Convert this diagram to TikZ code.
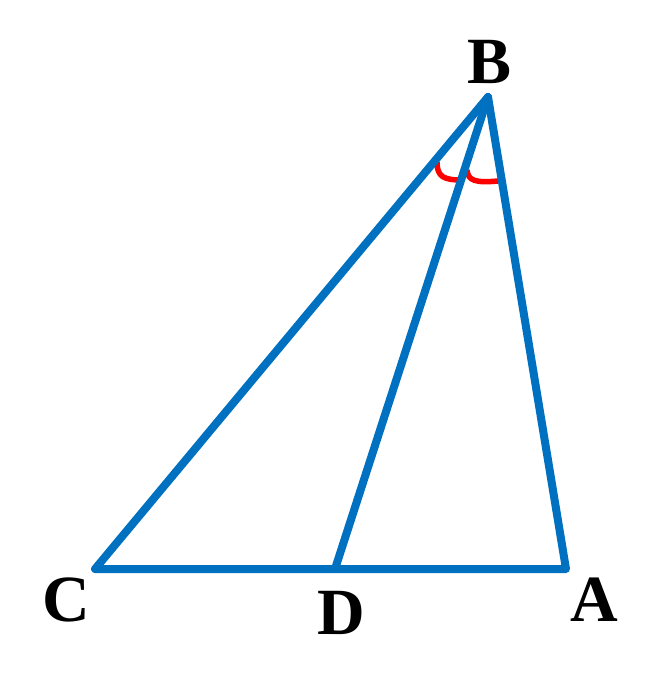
\documentclass[tikz,border=0pt]{standalone}
\usepackage{fontspec}
\setmainfont{Liberation Serif}
\definecolor{edgeblue}{RGB}{0,112,192}
\tikzset{
  side/.style={draw=edgeblue, line width=8pt, line join=round, line cap=round},
  anglemark/.style={draw=red, line width=5.5pt},
  lbl/.style={font=\fontsize{66}{66}\selectfont\bfseries, inner sep=0pt}
}
\begin{document}
\begin{tikzpicture}[x=1pt,y=-1pt]
\useasboundingbox (0,0) rectangle (659,691);
\coordinate (B) at (488,97);
\coordinate (C) at (95,569);
\coordinate (A) at (566,569);
\coordinate (D) at (335,569);
\coordinate (m1s) at (437,162);
\coordinate (m1e) at (462,180);
\coordinate (m2s) at (467,170);
\coordinate (m2e) at (498,181);
\draw[anglemark] (m1s) .. controls (437,177) and (444,180) .. (m1e);
\draw[anglemark] (m2s) .. controls (468,181) and (476,183) .. (m2e);
\draw[side] (B) -- (C) -- (A) -- cycle;
\draw[side] (B) -- (D);
\node[lbl] (lB) at (490,62) {B};
\node[lbl] (lC) at (66,600) {C};
\node[lbl] (lD) at (341,613) {D};
\node[lbl] (lA) at (594,600) {A};
\end{tikzpicture}
\end{document}
